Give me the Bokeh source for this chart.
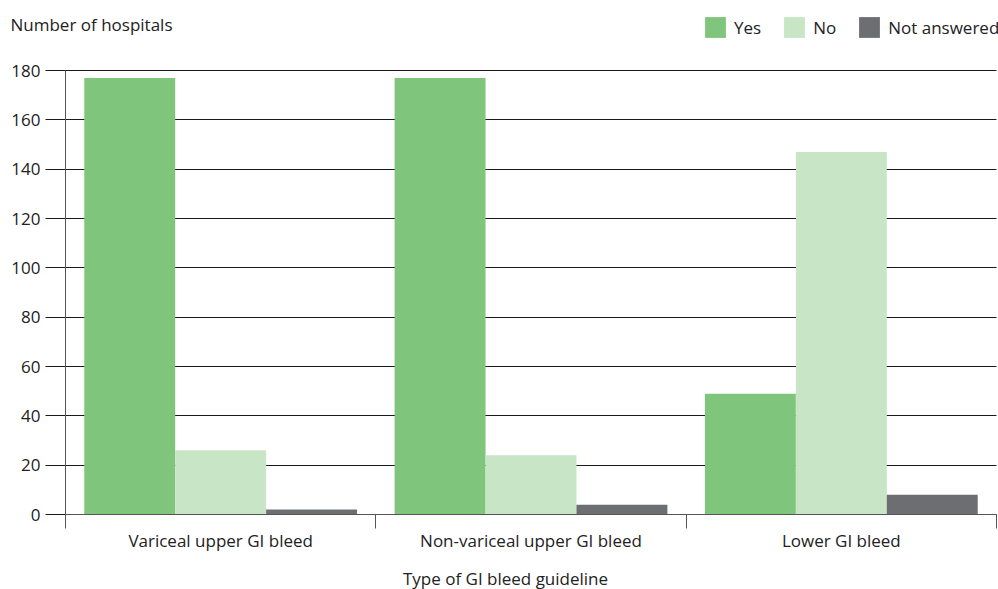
from bokeh.plotting import figure
from bokeh.models import (Range1d, LinearAxis, FixedTicker, ColumnDataSource, Label)
from bokeh.transform import dodge
from bokeh.embed import file_html
from bokeh.resources import INLINE

categories = ["Variceal upper GI bleed", "Non-variceal upper GI bleed", "Lower GI bleed"]
yes_vals = [177, 177, 49]
no_vals = [26, 24, 147]
na_vals = [2, 4, 8]
series_names = ["Yes", "No", "Not answered"]
colors = ["#80C57C", "#C8E5C6", "#6D6E71"]
y_ticks = [0, 20, 40, 60, 80, 100, 120, 140, 160, 180]

FONT = "Open Sans"
TXT = "#222222"
FS = "17px"

W, H = 998, 589
left_px, right_px, top_px, bottom_px = 65, 996, 70, 514   # plot area in the page
tick_len = 20

n = len(categories)
centers = [i + 0.5 for i in range(n)]
src = ColumnDataSource(dict(x=centers, Yes=yes_vals, No=no_vals, NA=na_vals))

# the frame fills the whole canvas; the plot area is placed through the ranges
k = (right_px - left_px) / n
ymax = y_ticks[-1]
u = ymax / (bottom_px - top_px)
x_range = Range1d(-left_px / k, n + (W - right_px) / k)
y_range = Range1d(-(H - bottom_px) * u, ymax + top_px * u)

p = figure(x_range=x_range, y_range=y_range, width=W, height=H,
           output_backend="svg", toolbar_location=None,
           x_axis_location=None, y_axis_location=None,
           min_border_left=0, min_border_right=0, min_border_top=0, min_border_bottom=0)
p.outline_line_color = None
p.background_fill_color = "white"

bw = 0.293
for key, name, col, off in zip(["Yes", "No", "NA"], series_names, colors, [-bw, 0, bw]):
    p.vbar(x=dodge("x", off), top=key, bottom=0, width=bw, source=src,
           fill_color=col, line_color=None, legend_label=name)

p.xgrid.grid_line_color = None
p.ygrid.ticker = FixedTicker(ticks=y_ticks)
p.ygrid.cross_bounds = (-tick_len / k, n)
p.ygrid.grid_line_color = "#1a1a1a"
p.ygrid.grid_line_width = 1

# y axis at x = 0 (tick marks come from the grid lines that extend left)
yax = LinearAxis(ticker=FixedTicker(ticks=y_ticks), bounds=(0, ymax), fixed_location=0,
                 minor_tick_line_color=None, major_tick_out=tick_len, major_tick_in=0,
                 major_tick_line_color=None, axis_line_color="#555555",
                 major_label_standoff=5, major_label_text_font=FONT,
                 major_label_text_font_size=FS, major_label_text_color=TXT)
p.add_layout(yax, "left")

# x axis at y = 0: labels at category centres, boundary ticks as minor ticks
xax = LinearAxis(ticker=FixedTicker(ticks=centers, minor_ticks=list(range(n + 1))),
                 bounds=(0, n), fixed_location=0,
                 major_label_overrides={c: lab for c, lab in zip(centers, categories)},
                 axis_line_color="#555555", major_tick_line_color=None,
                 major_tick_out=0, major_tick_in=0,
                 minor_tick_line_color="#555555", minor_tick_out=14, minor_tick_in=0,
                 major_label_standoff=0, major_label_text_font=FONT,
                 major_label_text_font_size=FS, major_label_text_color=TXT)
p.add_layout(xax, "below")

# axis titles
p.add_layout(Label(x=10, y=H - 24, x_units="screen", y_units="screen",
                   text="Number of hospitals", text_font=FONT, text_font_size=FS,
                   text_color=TXT, text_baseline="middle", text_align="left"))
p.add_layout(Label(x=505, y=H - 578, x_units="screen", y_units="screen",
                   text="Type of GI bleed guideline", text_font=FONT, text_font_size=FS,
                   text_color=TXT, text_baseline="middle", text_align="center"))

# legend
lg = p.legend[0]
lg.orientation = "horizontal"
lg.location = (702, H - 40)
lg.glyph_width = 26
lg.glyph_height = 26
lg.label_standoff = 6
lg.spacing = 20
lg.padding = 0
lg.margin = 0
lg.background_fill_alpha = 0
lg.border_line_alpha = 0
lg.label_text_font = FONT
lg.label_text_font_size = FS
lg.label_text_color = TXT

open("out.html", "w").write(file_html(p, INLINE))
